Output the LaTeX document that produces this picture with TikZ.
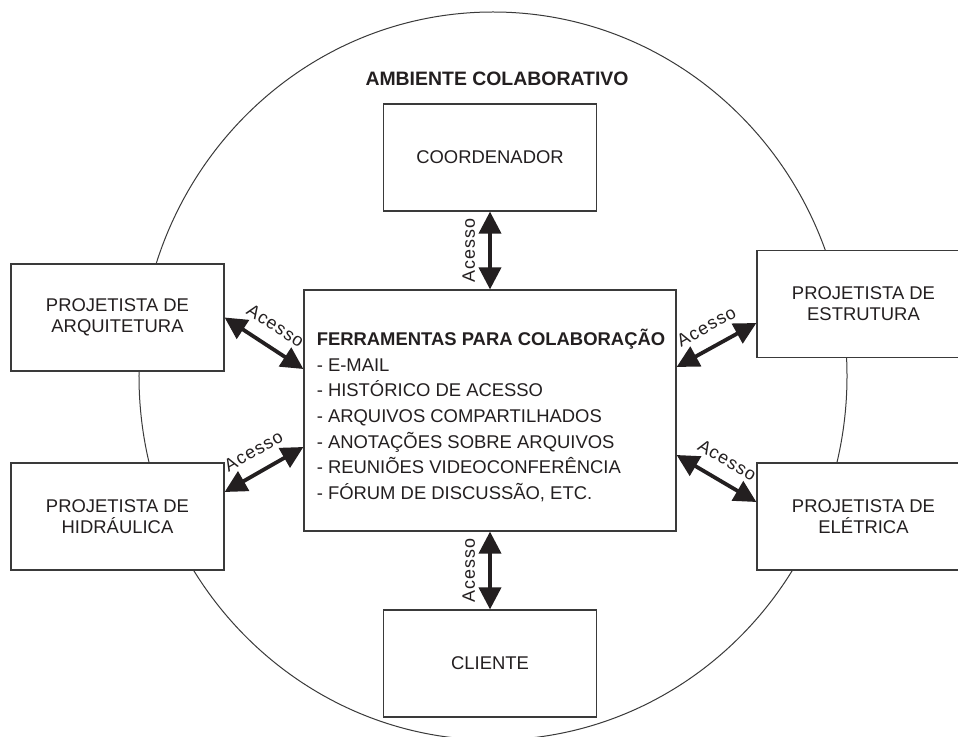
\documentclass[tikz,border=0pt]{standalone}
\usepackage{fontspec}
\setmainfont{Liberation Sans}
\newfontfamily\tagfont[LetterSpace=6]{Liberation Sans}
\usetikzlibrary{arrows.meta}
\definecolor{ink}{HTML}{231F20}
\definecolor{rim}{HTML}{3A3A3A}

\begin{document}
\begin{tikzpicture}[x=1bp,y=-1bp,
  every node/.style={text=ink},
  role/.style={draw=rim, line width=1.2bp, fill=white,
    minimum width=213bp, minimum height=107bp, inner sep=0pt,
    align=center, font=\fontsize{18.5}{21}\selectfont},
  hub/.style={draw=rim, line width=1.2bp, fill=white,
    minimum width=372bp, minimum height=241bp, inner sep=0pt},
  link/.style={draw=ink, line width=3.8bp,
    {Triangle[length=22bp,width=22bp]}-{Triangle[length=22bp,width=22bp]}},
  tag/.style={sloped, above=13bp, inner sep=0pt, midway,
    font=\tagfont\fontsize{18}{18}\selectfont}]

  % page area
  \fill[white] (0,0) rectangle (958,737);
  \useasboundingbox (0,0) rectangle (958,737);

  % the collaborative environment
  \draw[rim, line width=1bp] (493,376) ellipse [x radius=354bp, y radius=364bp];
  \node[font=\bfseries\fontsize{19.5}{20}\selectfont] (title) at (497,79)
    {AMBIENTE COLABORATIVO};

  % participants
  \node[role] (coord) at (490,157.5) {COORDENADOR};
  \node[role] (arq) at (117.5,317.5) {PROJETISTA DE\\ARQUITETURA};
  \node[role] (hid) at (117.5,516.5) {PROJETISTA DE\\HIDRÁULICA};
  \node[role] (est) at (863.5,304) {PROJETISTA DE\\ESTRUTURA};
  \node[role] (ele) at (863.5,516.5) {PROJETISTA DE\\ELÉTRICA};
  \node[role] (cli) at (490,663.5) {CLIENTE};

  % collaboration tools
  \node[hub] (hub) at (490,410.5) {};
  \node[align=left, inner sep=0pt, font=\fontsize{18.5}{25.7}\selectfont]
    (tools) at (491,415.5)
    {\textbf{FERRAMENTAS PARA COLABORAÇÃO}\\
     - E-MAIL\\
     - HISTÓRICO DE ACESSO\\
     - ARQUIVOS COMPARTILHADOS\\
     - ANOTAÇÕES SOBRE ARQUIVOS\\
     - REUNIÕES VIDEOCONFERÊNCIA\\
     - FÓRUM DE DISCUSSÃO, ETC.};

  % access links
  \draw[link] (hub.north) -- (coord.south) node[tag] {Acesso};
  \draw[link] (cli.north) -- (hub.south) node[tag] {Acesso};
  \draw[link] (arq.east) -- ([yshift=41.5bp]hub.west) node[tag] {Acesso};
  \draw[link] ([yshift=24.5bp]hid.east) -- ([yshift=-36.5bp]hub.west) node[tag] {Acesso};
  \draw[link] ([yshift=43.5bp]hub.east) -- ([yshift=-19bp]est.west) node[tag] {Acesso};
  \draw[link] ([yshift=-44.5bp]hub.east) -- ([yshift=14.5bp]ele.west) node[tag] {Acesso};
\end{tikzpicture}
\end{document}
